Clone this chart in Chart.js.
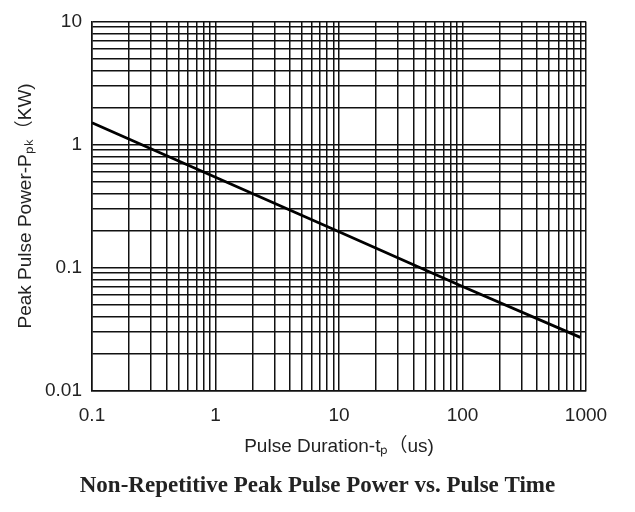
<!DOCTYPE html>
<html>
<head>
<meta charset="utf-8">
<script src="https://cdn.jsdelivr.net/npm/chart.js@4"></script>
<style>
  html, body { margin: 0; padding: 0; background: #fff; }
  #wrap { width: 635px; height: 512px; }
</style>
</head>
<body>
<div id="wrap"><canvas id="grafico" width="635" height="512"></canvas></div>
<script>
// datos
const duraciones = [0.1, 1, 10, 100, 900]
const potencias = [1.5, 0.54, 0.195, 0.07, 0.027]
const ticksX = [0.1, 1, 10, 100, 1000]
const ticksY = [0.01, 0.1, 1, 10]

// todas las lineas de la grilla (1..9 por decada)
const grillaLog = (min, max) => {
  const out = []
  for (let e = Math.log10(min); e < Math.log10(max); e++) {
    for (let m = 1; m < 10; m++) out.push(+(m * Math.pow(10, e)).toPrecision(3))
  }
  out.push(max)
  return out
}

const etiqueta = (lista) => (v) => lista.includes(+v.toPrecision(3)) ? String(+v.toPrecision(3)) : ''

const fuente = 'Liberation Sans, Arial, sans-serif'

const config = {
  type: 'line',
  data: {
    datasets: [{
      data: duraciones.map((x, i) => ({ x: x, y: potencias[i] })),
      borderColor: '#000',
      borderWidth: 2.8,
      pointRadius: 0,
      tension: 0
    }]
  },
  options: {
    responsive: false,
    animation: false,
    layout: { padding: { top: 16, right: 0, left: 0, bottom: 6 } },
    plugins: {
      legend: { display: false },
      tooltip: { enabled: false },
      title: {
        display: true,
        position: 'bottom',
        text: 'Non-Repetitive Peak Pulse Power vs. Pulse Time',
        color: '#222',
        font: { family: 'Liberation Serif, Times New Roman, serif', size: 23, weight: 'bold' },
        padding: { top: 10, bottom: 6 }
      }
    },
    scales: {
      x: {
        type: 'logarithmic',
        min: 0.1,
        max: 1000,
        afterBuildTicks: (s) => { s.ticks = grillaLog(0.1, 1000).map(v => ({ value: v })) },
        afterFit: (s) => { s.height = 72 },
        ticks: {
          autoSkip: false,
          maxRotation: 0,
          padding: 14,
          color: '#222',
          font: { family: fuente, size: 19 },
          callback: etiqueta(ticksX)
        },
        grid: { color: '#111', lineWidth: 1.5, drawTicks: false },
        border: { color: '#111', width: 1.5 },
        title: {
          display: true,
          text: 'Pulse Duration-tₚ（us)',
          color: '#222',
          font: { family: fuente + ', Noto Sans CJK SC', size: 19 },
          padding: { top: 2 }
        }
      },
      y: {
        type: 'logarithmic',
        min: 0.01,
        max: 10,
        afterBuildTicks: (s) => { s.ticks = grillaLog(0.01, 10).map(v => ({ value: v })) },
        afterFit: (s) => { s.width = 92 },
        ticks: {
          autoSkip: false,
          padding: 10,
          color: '#222',
          font: { family: fuente, size: 19 },
          callback: etiqueta(ticksY)
        },
        grid: { color: '#111', lineWidth: 1.5, drawTicks: false },
        border: { color: '#111', width: 1.5 },
        title: {
          display: true,
          text: 'Peak Pulse Power-Pₚₖ（KW)',
          color: '#222',
          font: { family: fuente + ', Noto Sans CJK SC', size: 19 },
          padding: { top: 14, bottom: 0 }
        }
      },
      // eje vacio a la derecha, solo para dejar el margen
      yDer: {
        type: 'linear',
        position: 'right',
        display: true,
        afterFit: (s) => { s.width = 49 },
        ticks: { display: false },
        grid: { display: false, drawTicks: false },
        border: { display: false }
      }
    }
  }
}

const myChart = new Chart(document.querySelector('#grafico'), config)
</script>
</body>
</html>
